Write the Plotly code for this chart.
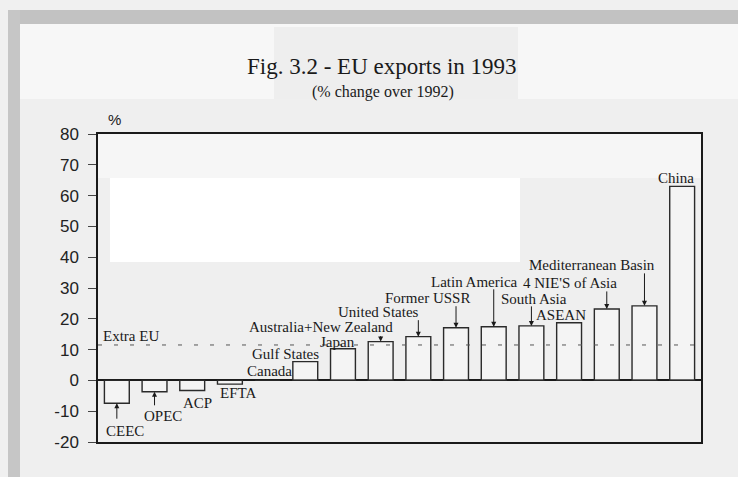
import plotly.graph_objects as go

# EU exports in 1993, % change over 1992
categories = [
    "CEEC", "OPEC", "ACP", "EFTA", "Canada", "Gulf States", "Japan",
    "Australia+New Zealand", "United States", "Former USSR", "Latin America",
    "South Asia", "ASEAN", "4 NIE'S of Asia", "Mediterranean Basin", "China",
]
values = [-7.4, -3.7, -3.3, -1.2, 0.0, 6.1, 10.3, 12.6, 14.2, 17.1, 17.4,
          17.7, 18.7, 23.2, 24.2, 63.0]
extra_eu = 11.5

y_ticks = [80, 70, 60, 50, 40, 30, 20, 10, 0, -10, -20]

# label placement: (text offset x, text offset y, arrow length) in pixels
label_style = {
    "CEEC": (8, 28, 17),
    "OPEC": (8, 24, 15),
    "ACP": (5, 12, 0),
    "EFTA": (8, 9, 0),
    "Canada": (2, -9, 0),
    "Gulf States": (-20, -8, 0),
    "Japan": (-5, -7, 0),
    "Australia+New Zealand": (-60, -15, 7),
    "United States": (-40, -25, 18),
    "Former USSR": (-29, -30, 23),
    "Latin America": (-19, -45, 39),
    "South Asia": (3, -27, 21),
    "ASEAN": (-8, -8, 0),
    "4 NIE'S of Asia": (-37, -26, 19),
    "Mediterranean Basin": (-52, -41, 34),
    "China": (-6, -8, 0),
}

W, H = 738, 477
L, R, T, B = 98, 701, 134, 442
SERIF = "Liberation Serif, Times New Roman, serif"
SANS = "Liberation Sans, Arial, sans-serif"


def px_x(px):
    return (px - L) / (R - L)


def px_y(py):
    return (B - py) / (B - T)


def rect(x0, y0, x1, y1, color):
    return dict(type="rect", xref="paper", yref="paper", layer="below",
                x0=px_x(x0), x1=px_x(x1), y0=px_y(y0), y1=px_y(y1),
                fillcolor=color, line=dict(width=0))


idx = list(range(len(categories)))

fig = go.Figure()
fig.add_trace(go.Bar(
    x=idx, y=values, width=0.66,
    marker=dict(color="rgba(250,250,250,0.45)",
                line=dict(color="#2a2a2a", width=1.4)),
    hoverinfo="skip",
))
fig.add_trace(go.Scatter(
    x=[-0.5, len(categories) - 0.5], y=[extra_eu, extra_eu], mode="lines",
    line=dict(color="#555555", width=1, dash="4px,12px"), hoverinfo="skip",
))

annotations = []
for i, (cat, v) in enumerate(zip(categories, values)):
    dx, dy, alen = label_style[cat]
    annotations.append(dict(
        x=i, y=v, xref="x", yref="y", text=cat, showarrow=False,
        xshift=dx, yshift=-dy, font=dict(family=SERIF, size=15, color="#1a1a1a"),
    ))
    if alen:
        annotations.append(dict(
            x=i, y=v, xref="x", yref="y", text="", showarrow=True,
            ax=0, ay=alen if v < 0 else -alen,
            arrowhead=2, arrowsize=1, arrowwidth=1, arrowcolor="#1a1a1a",
        ))

annotations += [
    dict(x=-0.5, y=extra_eu, xref="x", yref="y", text="Extra EU",
         showarrow=False, xanchor="left", yanchor="bottom", xshift=3, yshift=-1,
         font=dict(family=SERIF, size=15, color="#1a1a1a")),
    dict(x=px_x(106), y=px_y(119), xref="paper", yref="paper", text="%",
         showarrow=False, yanchor="middle",
         font=dict(family=SANS, size=15, color="#1a1a1a")),
    dict(x=px_x(382), y=px_y(52), xref="paper", yref="paper",
         text="Fig. 3.2 - EU exports in 1993", showarrow=False,
         font=dict(family=SERIF, size=23, color="#1a1a1a")),
    dict(x=px_x(383), y=px_y(81), xref="paper", yref="paper",
         text="(% change over 1992)", showarrow=False,
         font=dict(family=SERIF, size=16, color="#1a1a1a")),
]

shapes = [
    rect(20, 24, 738, 477, "#f7f7f7"),
    rect(20, 99, 738, 477, "#efefef"),
    rect(274, 27, 518, 99, "#eeeeee"),
    rect(98, 134, 701, 178, "#f6f6f6"),
    rect(110, 178, 520, 262, "#ffffff"),
    rect(8, 10, 738, 24, "#c2c2c2"),
    rect(8, 10, 20, 477, "#c6c6c6"),
]

fig.update_layout(
    width=W, height=H,
    margin=dict(l=L, r=W - R, t=T, b=H - B),
    paper_bgcolor="#f0f0f0",
    plot_bgcolor="rgba(0,0,0,0)",
    showlegend=False,
    annotations=annotations,
    shapes=shapes,
    xaxis=dict(range=[-0.5, len(categories) - 0.5], showticklabels=False,
               ticks="", showgrid=False, zeroline=False, showline=True,
               linecolor="#1a1a1a", linewidth=1.5, mirror=True, fixedrange=True),
    yaxis=dict(range=[-20, 80], tickvals=y_ticks,
               ticktext=[str(v) for v in y_ticks],
               ticks="outside", ticklen=8, ticklabelstandoff=6,
               tickcolor="#444444", showgrid=False, zeroline=True,
               zerolinecolor="#1a1a1a", zerolinewidth=1.5, showline=True,
               linecolor="#1a1a1a", linewidth=1.5, mirror=True,
               tickfont=dict(family=SANS, size=17, color="#222222"),
               fixedrange=True),
)

fig.write_html(
    "out.html",
    config={"displayModeBar": False},
    post_script="document.body.style.margin='0';"
                "document.body.style.background='#f0f0f0';",
)
